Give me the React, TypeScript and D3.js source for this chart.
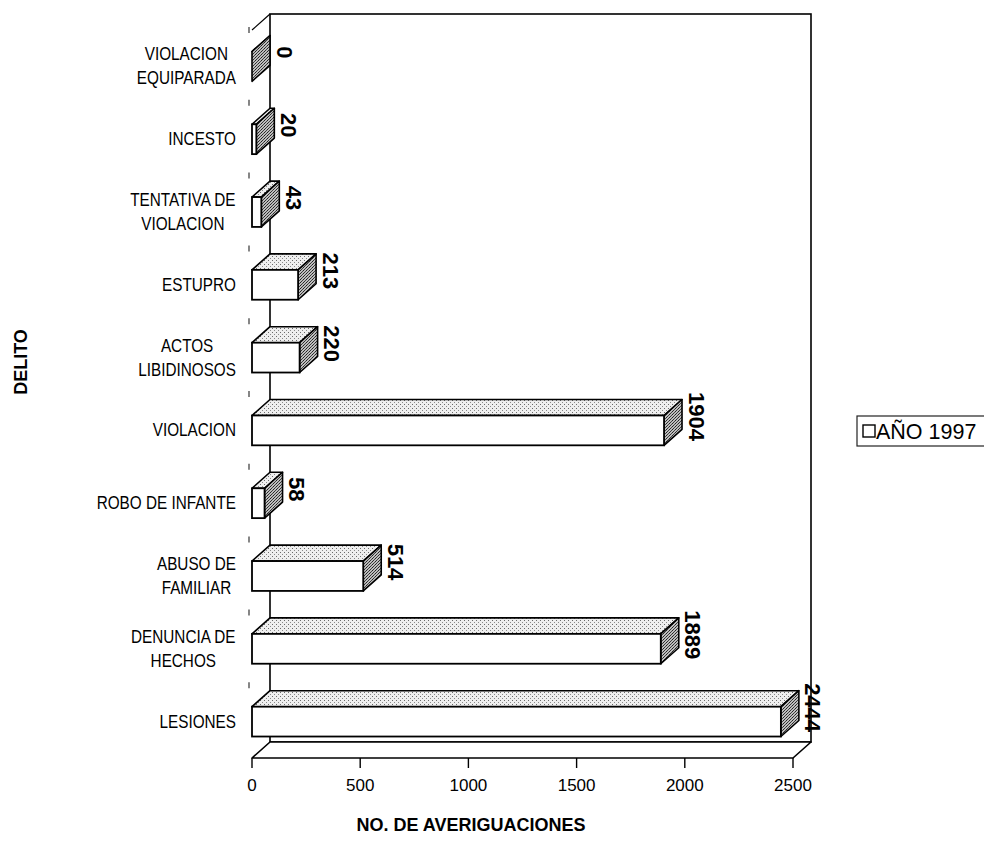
import React, { useMemo } from "react";
import * as d3 from "d3";

// Delitos registrados (número de averiguaciones), año 1997
const categories = [
  "VIOLACION EQUIPARADA",
  "INCESTO",
  "TENTATIVA DE VIOLACION",
  "ESTUPRO",
  "ACTOS LIBIDINOSOS",
  "VIOLACION",
  "ROBO DE INFANTE",
  "ABUSO DE FAMILIAR",
  "DENUNCIA DE HECHOS",
  "LESIONES",
];
const categoryLines = [
  ["VIOLACION", "EQUIPARADA"],
  ["INCESTO"],
  ["TENTATIVA DE", "VIOLACION"],
  ["ESTUPRO"],
  ["ACTOS", "LIBIDINOSOS"],
  ["VIOLACION"],
  ["ROBO DE INFANTE"],
  ["ABUSO DE", "FAMILIAR"],
  ["DENUNCIA DE", "HECHOS"],
  ["LESIONES"],
];
const values = [0, 20, 43, 213, 220, 1904, 58, 514, 1889, 2444];
const xTicks = [0, 500, 1000, 1500, 2000, 2500];
const seriesName = "AÑO 1997";
const xTitle = "NO. DE AVERIGUACIONES";
const yTitle = "DELITO";

const W = 984;
const H = 841;
const FONT = "'Liberation Sans', Arial, Helvetica, sans-serif";

// oblique depth offset of the 3-D box
const DX = 18;
const DY = 16;

// category labels use a slightly condensed face
const LABEL_SIZE = 18;
const LABEL_SQUEEZE = 0.85;

function measure(text: string, font: string): number {
  const c = document.createElement("canvas").getContext("2d");
  if (!c) return text.length * 9;
  c.font = font;
  return c.measureText(text).width;
}

export default function App() {
  const x = useMemo(
    () => d3.scaleLinear().domain([0, 2500]).range([252, 793]),
    []
  );
  const y = useMemo(
    () =>
      d3
        .scaleBand<string>()
        .domain(categories)
        .range([30, 758])
        .paddingInner(0.59)
        .paddingOuter(0.295),
    []
  );

  const [x0, x1] = x.range();
  const [yTopFront, yBotFront] = y.range();
  const step = y.step();
  const bw = y.bandwidth();

  const labelFont = `${LABEL_SIZE}px ${FONT}`;
  const labelRight = 236;

  return (
    <svg
      width={W}
      height={H}
      viewBox={`0 0 ${W} ${H}`}
      style={{ position: "absolute", left: 0, top: 0, background: "#fff" }}
      fontFamily={FONT}
    >
      <defs>
        <pattern id="stippleTop" width="4" height="4" patternUnits="userSpaceOnUse">
          <rect width="4" height="4" fill="#efefef" />
          <rect x="0" y="0" width="1" height="1" fill="#6a6a6a" />
          <rect x="2" y="2" width="1" height="1" fill="#8a8a8a" />
        </pattern>
        <pattern id="stippleSide" width="3" height="3" patternUnits="userSpaceOnUse">
          <rect width="3" height="3" fill="#bdbdbd" />
          <rect x="0" y="0" width="1" height="1" fill="#222" />
          <rect x="1" y="2" width="1" height="1" fill="#333" />
          <rect x="2" y="1" width="1" height="1" fill="#444" />
        </pattern>
      </defs>

      {/* back wall */}
      <rect
        x={x0 + DX}
        y={yTopFront - DY}
        width={x1 - x0}
        height={yBotFront - yTopFront}
        fill="#fff"
        stroke="#000"
        strokeWidth={1.6}
      />
      {/* left wall top edge */}
      <line
        x1={x0}
        y1={yTopFront}
        x2={x0 + DX}
        y2={yTopFront - DY}
        stroke="#000"
        strokeWidth={1.2}
      />
      {/* floor */}
      <polygon
        points={[
          [x0 + DX, yBotFront - DY],
          [x1 + DX, yBotFront - DY],
          [x1, yBotFront],
          [x0, yBotFront],
        ]
          .map((p) => p.join(","))
          .join(" ")}
        fill="#fff"
        stroke="#000"
        strokeWidth={1.6}
        strokeLinejoin="round"
      />

      {/* category axis marks on the front edge of the left wall */}
      {d3.range(0, categories.length).map((i) => (
        <line
          key={`ct${i}`}
          x1={x0 - 3}
          x2={x0 - 3}
          y1={yTopFront + i * step - 3}
          y2={yTopFront + i * step + 3}
          stroke="#444"
          strokeWidth={1.3}
        />
      ))}

      {/* value axis ticks along the front floor edge */}
      {xTicks.map((t) => (
        <g key={`xt${t}`}>
          <line
            x1={x(t)}
            x2={x(t)}
            y1={yBotFront}
            y2={yBotFront + 10}
            stroke="#000"
            strokeWidth={1.4}
          />
          <text
            x={x(t)}
            y={yBotFront + 33}
            textAnchor="middle"
            fontSize={17}
            fill="#000"
          >
            {t}
          </text>
        </g>
      ))}

      {/* bars */}
      {categories.map((c, i) => {
        const v = values[i];
        const top = y(c) as number;
        const bot = top + bw;
        const xa = x(0);
        const xb = x(v);
        const topFace = [
          [xa, top],
          [xb, top],
          [xb + DX, top - DY],
          [xa + DX, top - DY],
        ];
        const sideFace = [
          [xb, top],
          [xb + DX, top - DY],
          [xb + DX, bot - DY],
          [xb, bot],
        ];
        const pts = (a: number[][]) => a.map((p) => p.join(",")).join(" ");
        return (
          <g key={c}>
            <polygon
              points={pts(topFace)}
              fill="url(#stippleTop)"
              stroke="#000"
              strokeWidth={1.6}
              strokeLinejoin="round"
            />
            <polygon
              points={pts(sideFace)}
              fill="url(#stippleSide)"
              stroke="#000"
              strokeWidth={1.6}
              strokeLinejoin="round"
            />
            <rect
              x={xa}
              y={top}
              width={Math.max(xb - xa, 0)}
              height={bw}
              fill="#fff"
              stroke="#000"
              strokeWidth={1.8}
            />
            <text
              transform={`translate(${xb + DX + 14},${top + bw / 2 - DY + 2}) rotate(90)`}
              textAnchor="middle"
              dominantBaseline="central"
              fontSize={22}
              fontWeight="bold"
              fill="#000"
            >
              {v}
            </text>
          </g>
        );
      })}

      {/* category labels */}
      {categoryLines.map((lines, i) => {
        const widths = lines.map((l) => measure(l, labelFont) * LABEL_SQUEEZE);
        const maxW = Math.max(...widths);
        const cx = labelRight - maxW / 2;
        const cy = (y(categories[i]) as number) + bw / 2;
        const lh = 24;
        return (
          <g key={`cl${i}`}>
            {lines.map((l, k) => (
              <text
                key={k}
                transform={`translate(${cx},${cy + (k - (lines.length - 1) / 2) * lh}) scale(${LABEL_SQUEEZE},1)`}
                textAnchor="middle"
                dominantBaseline="central"
                fontSize={LABEL_SIZE}
                fill="#000"
              >
                {l}
              </text>
            ))}
          </g>
        );
      })}

      {/* axis titles */}
      <text
        x={471}
        y={831}
        textAnchor="middle"
        fontSize={18}
        fontWeight="bold"
        fill="#000"
      >
        {xTitle}
      </text>
      <text
        transform={`translate(21,362) rotate(-90)`}
        textAnchor="middle"
        dominantBaseline="central"
        fontSize={18}
        fontWeight="bold"
        fill="#000"
      >
        {yTitle}
      </text>

      {/* legend */}
      <g>
        <rect x={857} y={416} width={140} height={30} fill="#fff" stroke="#222" strokeWidth={1.2} />
        <rect x={863} y={425} width={12} height={12} fill="#fff" stroke="#000" strokeWidth={1.4} />
        <text x={876} y={438.5} fontSize={21.5} fill="#000">
          {seriesName}
        </text>
      </g>
    </svg>
  );
}
